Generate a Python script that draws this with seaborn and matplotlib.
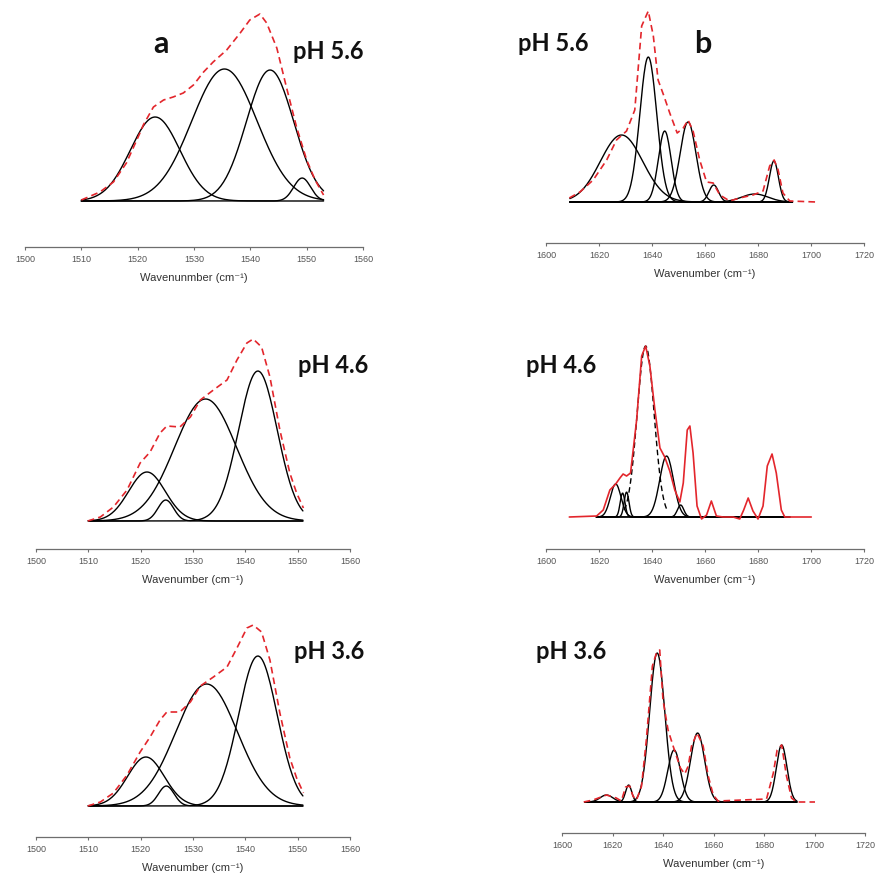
import numpy as np
import matplotlib
matplotlib.use("Agg")
import matplotlib.pyplot as plt
import seaborn as sns

# BAND FIT DATA: centre (cm-1), height (a.u.), gaussian width (cm-1)
# envelope = measured spectrum read off the figure
# (a) amide II, pH 5.6
a56_centers=[1523.1,1535.4,1543.5,1549.2]
a56_heights=[0.84,1.32,1.31,0.23]
a56_widths=[4.4,5.8,4.2,1.5]
a56_env_x=[1510,1513.3,1515.7,1518.0,1520.4,1521.0,1522.8,1524.6,1526.3,1528.1,1529.9,1531.7,
           1533.4,1535.8,1538.2,1539.9,1541.7,1542.9,1544.7,1546.4,1548.2,1550.0,1551.5,1553.0]
a56_env_y=[0.01,0.09,0.19,0.38,0.68,0.76,0.94,1.01,1.04,1.08,1.16,1.29,
           1.39,1.51,1.68,1.81,1.87,1.78,1.53,1.14,0.74,0.41,0.21,0.06]

# (a) amide II, pH 4.6
a46_centers=[1521.2,1524.8,1532.4,1542.4]
a46_heights=[0.49,0.21,1.22,1.50]
a46_widths=[3.5,1.5,5.9,3.7]
a46_env_x=[1509.9,1512.3,1514.8,1517.4,1519.9,1521.8,1523.7,1525.0,1527.5,1529.5,1531.4,
           1533.9,1536.5,1538.4,1540.3,1541.5,1543.1,1544.7,1546.6,1548.5,1549.8,1551.1]
a46_env_y=[0.0,0.04,0.14,0.31,0.58,0.69,0.88,0.95,0.94,1.04,1.21,
           1.31,1.41,1.61,1.78,1.82,1.74,1.44,0.91,0.48,0.28,0.13]

# (a) amide II, pH 3.6
a36_centers=[1521.0,1524.9,1532.6,1542.4]
a36_heights=[0.49,0.20,1.22,1.50]
a36_widths=[3.5,1.5,5.9,3.7]
a36_env_x=[1509.9,1512.3,1514.8,1517.4,1519.9,1521.8,1523.7,1525.0,1527.5,1529.5,1531.4,
           1533.9,1536.5,1538.4,1540.3,1541.5,1543.1,1544.7,1546.6,1548.5,1549.8,1551.1]
a36_env_y=[0.0,0.04,0.13,0.31,0.54,0.69,0.86,0.94,0.94,1.04,1.20,
           1.29,1.39,1.58,1.78,1.81,1.74,1.46,0.93,0.48,0.28,0.13]

# (b) amide I, pH 5.6
b56_centers=[1628.5,1638.6,1644.8,1653.6,1663.3,1678.8,1686.0]
b56_heights=[0.67,1.45,0.71,0.80,0.17,0.08,0.41]
b56_widths=[8.0,3.2,2.4,3.0,1.8,5.0,1.7]
b56_env_x=[1608.8,1612.8,1617.8,1622.9,1626.6,1630.4,1633.5,1636.1,1638.6,1640.5,1642.3,1644.5,
           1646.7,1649.5,1651.8,1653.6,1655.5,1658.0,1660.6,1663.1,1665.6,1669.3,1673.1,1678.1,
           1681.9,1684.4,1686.1,1687.6,1689.4,1692.0,1702.0]
b56_env_y=[0.04,0.10,0.22,0.42,0.62,0.71,0.92,1.76,1.91,1.66,1.22,1.06,
           0.89,0.69,0.74,0.82,0.71,0.42,0.20,0.19,0.07,0.01,0.04,0.07,
           0.11,0.36,0.42,0.32,0.09,0.01,0.0]

# (b) amide I, pH 4.6 (1637.6 band drawn dashed)
b46_centers=[1626.3,1628.9,1630.4,1637.6,1645.5,1650.8]
b46_heights=[0.33,0.24,0.25,1.71,0.61,0.12]
b46_widths=[2.0,0.9,0.9,3.2,2.6,1.2]
b46_dashed=[False,False,False,True,False,False]
b46_env_x=[1608.8,1619.1,1621.6,1624.1,1626.3,1627.9,1629.1,1630.4,1631.9,1634.2,1636.1,1637.6,
           1639.2,1641.1,1643.0,1644.8,1646.7,1648.6,1650.5,1651.8,1653.3,1654.3,1655.5,1657.0,
           1658.7,1660.6,1662.4,1664.3,1666.8,1670.6,1673.1,1674.6,1676.3,1678.1,1680.0,1681.9,
           1683.5,1685.3,1686.9,1688.8,1690.1,1700.1]
b46_env_y=[0.0,0.01,0.07,0.27,0.33,0.39,0.43,0.41,0.44,0.97,1.61,1.71,
           1.51,1.07,0.69,0.60,0.46,0.27,0.15,0.34,0.87,0.91,0.64,0.11,
           -0.02,0.02,0.16,0.01,0.0,0.0,-0.02,0.07,0.19,0.06,-0.02,0.11,
           0.51,0.63,0.44,0.07,0.0,0.0]

# (b) amide I, pH 3.6
b36_centers=[1617.6,1626.4,1637.7,1644.4,1653.7,1687.0]
b36_heights=[0.07,0.17,1.49,0.52,0.69,0.57]
b36_widths=[2.5,1.2,3.0,2.5,2.8,2.1]
b36_env_x=[1608.6,1612.3,1617.6,1621.5,1623.5,1625.2,1626.8,1628.1,1629.5,1631.5,1633.4,1635.8,
           1637.4,1638.7,1640.0,1642.0,1644.0,1646.9,1648.6,1650.0,1651.3,1653.5,1655.9,1657.9,
           1659.9,1661.8,1681.0,1683.7,1685.2,1687.0,1688.9,1690.9,1692.9,1700.2]
b36_env_y=[0.0,0.02,0.07,0.04,0.01,0.15,0.16,0.06,0.02,0.16,0.62,1.36,
           1.49,1.52,1.02,0.72,0.56,0.34,0.28,0.36,0.56,0.69,0.56,0.26,
           0.07,0.01,0.03,0.29,0.52,0.57,0.26,0.04,0.0,0.0]

ph_labels=["pH 5.6","pH 4.6","pH 3.6"]
a_ticks=[1500,1510,1520,1530,1540,1550,1560]
b_ticks=[1600,1620,1640,1660,1680,1700,1720]

RED="#e3262c"
W=877.0

# STYLE
sns.set_theme(style="white")
plt.rcParams["font.family"]=["Liberation Sans","DejaVu Sans"]

fig=plt.figure(figsize=(8.77,8.77),dpi=100)

# panel layout in pixels: x of first/last tick, axis line y, curve baseline y, top y, component range
panels=[
    dict(c=a56_centers,h=a56_heights,w=a56_widths,ex=a56_env_x,ey=a56_env_y,rng=(1510,1553),
         px=(25,363),axis_y=247,base_y=201,top_y=5,ticks=a_ticks,
         xlabel="Wavenunmber (cm\u207b\u00b9)",solid=False,dashed=None),
    dict(c=a46_centers,h=a46_heights,w=a46_widths,ex=a46_env_x,ey=a46_env_y,rng=(1510,1551),
         px=(36,350),axis_y=549,base_y=521,top_y=330,ticks=a_ticks,
         xlabel="Wavenumber (cm\u207b\u00b9)",solid=False,dashed=None),
    dict(c=a36_centers,h=a36_heights,w=a36_widths,ex=a36_env_x,ey=a36_env_y,rng=(1510,1551),
         px=(36,350),axis_y=837,base_y=806,top_y=615,ticks=a_ticks,
         xlabel="Wavenumber (cm\u207b\u00b9)",solid=False,dashed=None),
    dict(c=b56_centers,h=b56_heights,w=b56_widths,ex=b56_env_x,ey=b56_env_y,rng=(1609,1693),
         px=(546,864),axis_y=243,base_y=202,top_y=5,ticks=b_ticks,
         xlabel="Wavenumber (cm\u207b\u00b9)",solid=False,dashed=None),
    dict(c=b46_centers,h=b46_heights,w=b46_widths,ex=b46_env_x,ey=b46_env_y,rng=(1619,1692),
         px=(546,864),axis_y=549,base_y=517,top_y=330,ticks=b_ticks,
         xlabel="Wavenumber (cm\u207b\u00b9)",solid=True,dashed=b46_dashed),
    dict(c=b36_centers,h=b36_heights,w=b36_widths,ex=b36_env_x,ey=b36_env_y,rng=(1609,1693),
         px=(562,865),axis_y=833,base_y=802,top_y=615,ticks=b_ticks,
         xlabel="Wavenumber (cm\u207b\u00b9)",solid=False,dashed=None),
]

for p in panels:
    x0,x1=p["px"]
    ax=fig.add_axes([x0/W,1-p["axis_y"]/W,(x1-x0)/W,(p["axis_y"]-p["top_y"])/W])
    ax.patch.set_alpha(0)
    grid=np.arange(p["rng"][0],p["rng"][1]+0.001,0.25)
    # component bands
    for i,(c,h,w) in enumerate(zip(p["c"],p["h"],p["w"])):
        ls="-"
        xx=grid
        if p["dashed"] is not None and p["dashed"][i]:
            xx=grid[(grid>c-2.6*w)&(grid<c+2.6*w)]
            ls=(0,(4,2.5))
        yy=h*np.exp(-(xx-c)**2/(2*w**2))
        sns.lineplot(x=xx,y=yy,ax=ax,color="black",linewidth=1.0,linestyle=ls,
                     estimator=None,sort=False,zorder=2)
    # measured envelope
    sns.lineplot(x=p["ex"],y=p["ey"],ax=ax,color=RED,linewidth=1.2,
                 linestyle="-" if p["solid"] else (0,(4,2.5)),
                 estimator=None,sort=False,zorder=3)
    ticks=p["ticks"]
    ax.set_xlim(ticks[0],ticks[-1])
    ax.set_ylim(-(p["axis_y"]-p["base_y"])/100,(p["base_y"]-p["top_y"])/100)
    ax.set_xticks(ticks)
    ax.set_xticklabels([str(t) for t in ticks])
    ax.set_yticks([])
    ax.set_ylabel("")
    sns.despine(ax=ax,left=True,top=True,right=True)
    ax.spines["bottom"].set_color("#6e6e6e")
    ax.spines["bottom"].set_linewidth(0.9)
    ax.tick_params(axis="x",direction="out",length=2.5,width=0.8,color="#6e6e6e",
                   labelsize=6.5,labelcolor="#555555",pad=3,bottom=True)
    ax.set_xlabel(p["xlabel"],fontsize=8,color="#333333",labelpad=7)

# PANEL TEXT
bold=dict(family=["Lato","DejaVu Sans"],fontweight="bold",color="#111111")
fig.text(153/W,1-53/W,"a",fontsize=22,ha="left",va="baseline",**bold)
fig.text(694/W,1-53/W,"b",fontsize=22,ha="left",va="baseline",**bold)
ph_pos=[(293,59),(298,373),(294,659),(518,51),(526,373),(536,659)]
for k,(tx,ty) in enumerate(ph_pos):
    fig.text(tx/W,1-ty/W,ph_labels[k%3],fontsize=17,ha="left",va="baseline",**bold)

fig.savefig("out.png",dpi=100,facecolor="white")
